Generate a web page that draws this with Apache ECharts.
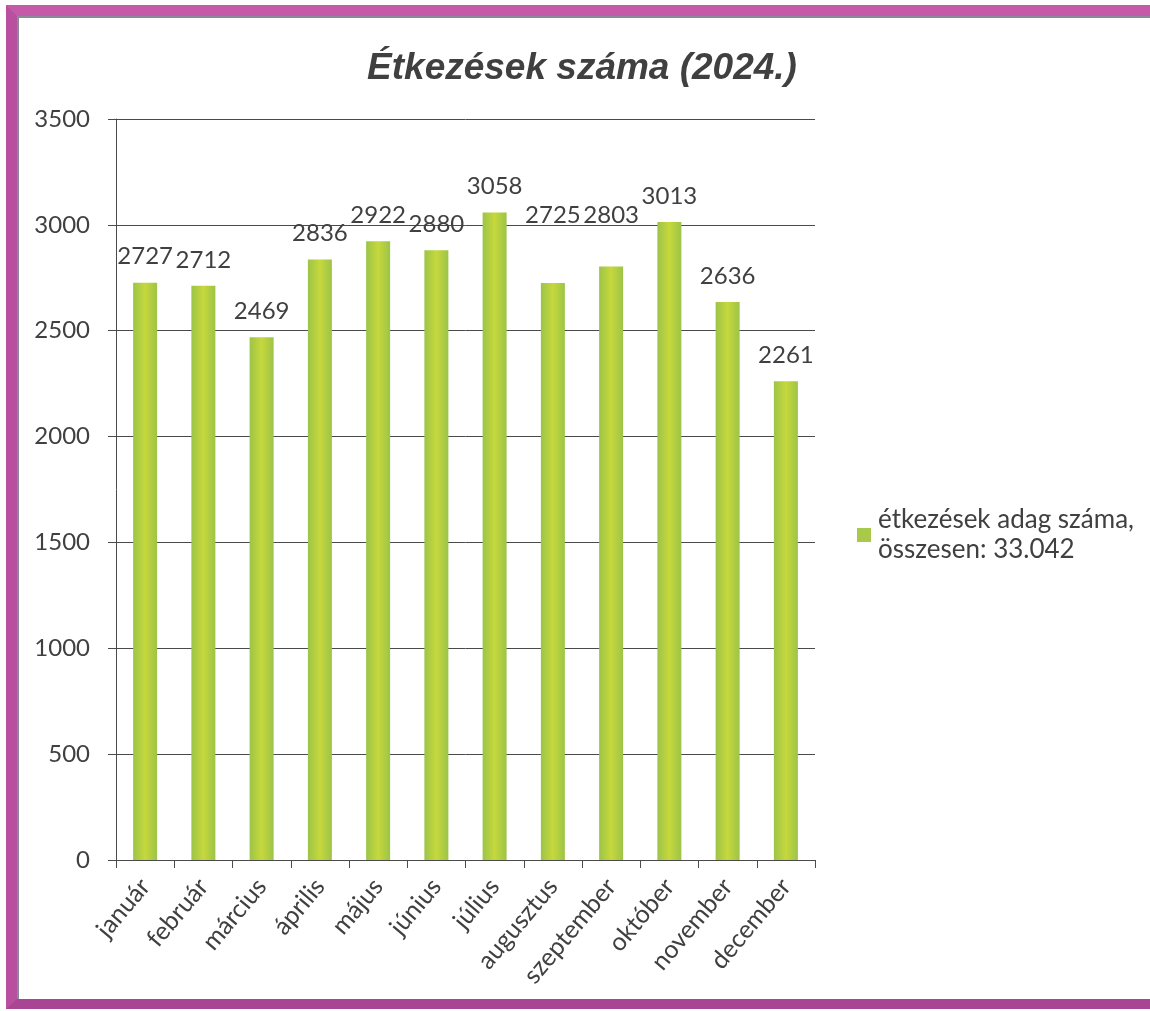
<!DOCTYPE html>
<html>
<head>
<meta charset="utf-8">
<script src="https://cdn.jsdelivr.net/npm/echarts@6/dist/echarts.min.js"></script>
<style>
  html, body { margin: 0; padding: 0; background: #fff; }
  #frame {
    position: absolute; left: 6px; top: 5px; width: 1160px; height: 983px;
    border-left: 11px solid #b9509f; border-top: 11px solid #c45aa8;
    border-bottom: 10px solid #a94694;
    box-shadow: inset 2px 2px 0 #8a8a9a;
  }
  #chart { position: absolute; left: 0; top: 0; width: 1150px; height: 1011px; }
</style>
</head>
<body>
<div id="frame"></div>
<div id="chart"></div>
<script>
const months = ['január', 'február', 'március', 'április', 'május', 'június',
  'július', 'augusztus', 'szeptember', 'október', 'november', 'december']
const meals = [2727, 2712, 2469, 2836, 2922, 2880, 3058, 2725, 2803, 3013, 2636, 2261]
const yTicks = { min: 0, max: 3500, interval: 500 }
const seriesName = 'étkezések adag száma,'
const totalLine = 'összesen: 33.042'

// a couple of labels were nudged up in the original
const labelLift = { 7: 42, 8: 25 }

const font = 'Lato, "Open Sans", sans-serif'
const barFill = new echarts.graphic.LinearGradient(0, 0, 1, 0, [
  { offset: 0, color: '#9cc448' },
  { offset: 0.5, color: '#c6d83c' },
  { offset: 1, color: '#9cc448' },
])

const chart = echarts.init(document.getElementById('chart'))
chart.setOption({
  animation: false,
  title: {
    text: 'Étkezések száma (2024.)',
    left: 577, top: 45, textAlign: 'center',
    textStyle: {
      fontFamily: '"Liberation Sans Narrow", "Arial Narrow", "Liberation Sans", sans-serif',
      fontStyle: 'italic', fontWeight: 'bold', fontSize: 37, color: '#404040',
    },
  },
  legend: {
    left: 857, top: 490, padding: 0,
    itemWidth: 14, itemHeight: 14, itemGap: 0,
    data: [{ name: seriesName, icon: 'rect', itemStyle: { color: '#a9c94a' } }],
    formatter: (n) => n + '\n' + totalLine,
    textStyle: {
      fontFamily: font, fontSize: 26, color: '#404040',
      lineHeight: 30, padding: [30, 0, 0, 2],
    },
  },
  grid: { left: 116, right: 335, top: 119, bottom: 151 },
  xAxis: {
    type: 'category',
    data: months,
    axisLine: { lineStyle: { color: '#4a4a4a', width: 1 } },
    axisTick: { show: true, length: 8, lineStyle: { color: '#4a4a4a' } },
    axisLabel: {
      rotate: 50, fontFamily: font, fontSize: 25, color: '#404040', margin: 22,
    },
  },
  yAxis: {
    type: 'value',
    ...yTicks,
    axisLine: { show: true, lineStyle: { color: '#4a4a4a', width: 1 } },
    axisTick: { show: true, length: 8, lineStyle: { color: '#4a4a4a' } },
    splitLine: { lineStyle: { color: '#4a4a4a', width: 1 } },
    axisLabel: {
      fontFamily: font, fontSize: 24, color: '#404040', margin: 26,
      formatter: (v) => String(v),
    },
  },
  series: [{
    name: seriesName,
    type: 'bar',
    barWidth: 24,
    itemStyle: { color: barFill },
    data: meals.map((v, i) => labelLift[i]
      ? { value: v, label: { offset: [0, -labelLift[i]] } }
      : v),
    label: {
      show: true, position: 'top', distance: 14,
      fontFamily: font, fontSize: 24, color: '#404040',
    },
  }],
})
</script>
</body>
</html>
